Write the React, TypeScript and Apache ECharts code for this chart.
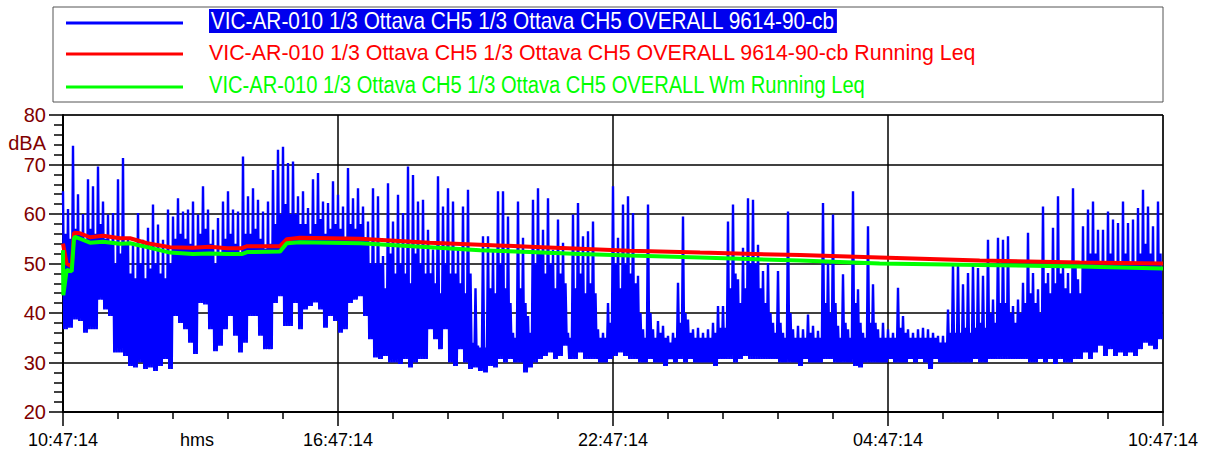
import React, { useEffect, useRef } from "react";
import * as echarts from "echarts";

// ---- data ----
const SPAN_MIN = 1440; // 24 h of record, x in minutes from start
const X_TICK_LABELS = ["10:47:14", "16:47:14", "22:47:14", "04:47:14", "10:47:14"];
const Y_MIN = 20;
const Y_MAX = 80;

const LEGEND_NAMES = [
  "VIC-AR-010 1/3 Ottava CH5 1/3 Ottava CH5 OVERALL 9614-90-cb",
  "VIC-AR-010 1/3 Ottava CH5 1/3 Ottava CH5 OVERALL 9614-90-cb Running Leq",
  "VIC-AR-010 1/3 Ottava CH5 1/3 Ottava CH5 OVERALL Wm Running Leq",
];

// Blue raw level, per time slice: highest peak, lowest trough, and top of the dense band
const BLUE_HI = [
  64.6, 61, 73.8, 64, 60, 67, 65.6, 69.6, 62.5, 59.9, 60.2, 67, 71.3, 54.8, 54.2, 60.2, 54.8, 57.2, 61.9, 57.9, 54.8, 60.9,
  59.5, 63.2, 60.5, 60.9, 62.5, 59.9, 65.6, 60.9, 56.8, 59.2, 62.5, 64.6, 60.9, 60.5, 71.6, 63.6, 65.2, 62.9, 60.5, 62.5, 68.9, 73,
  73.6, 70.3, 70.6, 63.6, 64.6, 61.2, 67, 68.3, 62.5, 62.2, 66.6, 63.9, 61.5, 69.3, 63.2, 65.2, 61.5, 58.5, 65.2, 63.6, 51.5, 66.2,
  58.5, 63.9, 60.2, 69.6, 67.9, 62.5, 62.9, 56.8, 52.8, 67.6, 61.5, 65.2, 62.5, 52.8, 61.5, 64.9, 34, 33.4, 55.5, 55.5, 52.8, 64.6,
  64.6, 59.5, 36, 62.5, 55.2, 39.4, 62.9, 65.2, 56.8, 63.2, 52.8, 58.9, 54.2, 36, 59.9, 62.2, 55.5, 56.5, 58.5, 36.7, 36, 42,
  65.6, 55.2, 61.9, 63.6, 60.2, 47.5, 36.7, 61.9, 36.7, 38.4, 37.4, 35.4, 36, 46.1, 59.5, 38.7, 36.7, 37, 36, 36.7, 38, 41.4,
  41.4, 58.5, 61.9, 46.8, 53.2, 63.2, 62.9, 53.8, 48.5, 50.1, 38, 48.5, 36, 60.5, 36.7, 37.4, 36.7, 39.7, 37.4, 36.4, 62.2, 50.1,
  59.9, 37.4, 47.8, 36.7, 64.6, 44.8, 36, 57.5, 45.8, 36.7, 38, 36.7, 36, 45.1, 39.4, 36.7, 36, 36.7, 37, 36.7, 36, 35.4,
  35.4, 40.7, 50.1, 50.1, 45.8, 48.1, 50.1, 49.1, 47.5, 54.8, 42.7, 55.2, 54.8, 55.5, 41.4, 42.7, 46.1, 56.2, 48.1, 44.8, 61.5, 48.1,
  57.2, 63.6, 49.5, 48.1, 65.2, 46.8, 57.5, 60.9, 62.5, 56.8, 56.8, 60.5, 58.9, 58.2, 62.5, 58.2, 58.9, 61.2, 64.9, 61.5, 57.5, 62.5,
];
const BLUE_LO = [
  36.7, 37, 38.7, 38.4, 36, 36.7, 36.7, 42.7, 40.7, 39.4, 32, 32, 31.3, 29.3, 29, 30, 28.7, 29, 28.3, 29.3, 30.7, 28.7,
  39.4, 38, 36.7, 34, 31.7, 42, 41.7, 36.7, 32.3, 33.4, 36.7, 39.4, 35.4, 32, 34, 39.4, 39.4, 35.4, 32.7, 32.7, 42, 43.4,
  37.4, 37.4, 42, 36.7, 40.7, 41.4, 42.1, 40.7, 37, 39.4, 38.4, 36, 36.7, 42, 42.7, 43.4, 39.4, 34.7, 31, 30.7, 31.3, 30,
  30, 29.7, 30.7, 29, 30, 30.7, 30.7, 36.7, 34.7, 32.7, 36.7, 30, 29.3, 32.7, 30, 28.7, 29, 28.3, 28, 29.3, 29, 30.7,
  30, 30.7, 30, 30, 28, 29, 30, 30.7, 31.3, 32, 30.7, 31.3, 33.4, 30.7, 30.7, 32, 30.7, 30.7, 30.7, 30, 30, 30.7,
  31.3, 32, 31.3, 30.7, 30.7, 30, 30, 30.7, 30, 30, 29.3, 30.7, 30, 30.7, 30, 30.7, 30, 30, 30, 30, 29.3, 30.7,
  30.7, 30.7, 30, 30.7, 31.3, 30.7, 30.7, 30.7, 30.7, 30.7, 30.7, 30, 30, 30, 30, 29.3, 30.7, 30, 30, 30, 30.7, 30.7,
  30, 30, 30, 30, 29.3, 29, 30, 30, 30, 30, 30, 30.7, 30, 30, 30, 30.7, 30, 30.7, 30, 28.7, 30.7, 30,
  30, 30, 30, 30, 30, 30, 30.7, 30, 30, 30.7, 30.7, 30.7, 30.7, 30.7, 30.7, 30.7, 30.7, 30, 30, 30.7, 30, 30.7,
  29.7, 30.7, 30, 30, 30.7, 30.7, 32, 30.7, 32, 33.4, 31.3, 32.7, 31.3, 32, 31.3, 32, 31.3, 32.7, 34, 33.4, 32.7, 34.7,
];
const BLUE_CORE = [
  56, 55, 57, 56, 55, 57, 56, 58, 55, 54, 50, 52, 54, 48, 47, 50, 47, 49, 50, 48, 47, 50,
  55, 56, 55, 54, 53, 56, 57, 54, 50, 52, 55, 56, 54, 52, 56, 56, 57, 55, 53, 54, 58, 60,
  62, 60, 60, 58, 58, 56, 58, 59, 56, 57, 58, 57, 55, 58, 57, 58, 55, 50, 50, 50, 45, 52,
  48, 50, 48, 46, 52, 50, 48, 48, 46, 44, 50, 48, 48, 46, 44, 48, 45, 33, 33, 45, 44, 50,
  45, 42, 35, 45, 42, 36, 50, 52, 48, 50, 45, 48, 46, 35, 45, 48, 44, 46, 44, 35, 35, 38,
  50, 45, 50, 48, 46, 40, 35, 40, 35, 36, 35, 34, 35, 38, 40, 36, 35, 35, 35, 35, 36, 37,
  37, 45, 48, 42, 45, 50, 50, 45, 42, 40, 36, 38, 35, 40, 35, 35, 35, 36, 35, 35, 42, 40,
  42, 35, 38, 35, 42, 38, 35, 38, 38, 35, 35, 35, 35, 37, 36, 35, 35, 35, 35, 35, 35, 34,
  34, 36, 36, 36, 37, 36, 37, 38, 37, 40, 38, 42, 42, 40, 38, 40, 42, 44, 42, 40, 46, 44,
  46, 48, 45, 44, 50, 44, 50, 52, 52, 50, 50, 52, 50, 50, 52, 50, 50, 52, 54, 52, 50, 52,
];

// Red running Leq
const RED_T = [0, 4.8, 11.4, 14.4, 22.3, 35.3, 52.4, 74.6, 87.7, 110, 140, 170, 192, 215, 234, 241, 284, 293, 310, 389, 480, 546, 611, 677, 742, 834, 965, 1069, 1200, 1331, 1440];
const RED_V = [54.0, 50.0, 49.4, 56.2, 56.1, 55.3, 55.6, 55.1, 55.1, 54.1, 53.3, 53.2, 53.4, 53.1, 53.1, 53.5, 53.5, 54.9, 55.2, 55.0, 54.2, 53.8, 53.4, 53.0, 52.6, 52.2, 51.7, 51.2, 50.6, 50.2, 50.0];

// Green Wm running Leq
const GREEN_T = [0, 0.4, 4.8, 11.4, 14.4, 15.7, 22.3, 35.3, 52.4, 74.6, 87.7, 110, 140, 170, 192, 215, 234, 241, 284, 293, 310, 389, 480, 546, 611, 677, 742, 834, 965, 1069, 1200, 1331, 1440];
const GREEN_V = [52.7, 43.6, 48.7, 48.4, 55.0, 55.4, 55.0, 54.2, 54.4, 54.0, 54.1, 53.3, 52.2, 51.9, 52.0, 51.9, 51.9, 52.3, 52.4, 54.1, 54.3, 54.1, 53.3, 52.7, 52.3, 51.9, 51.6, 51.2, 50.6, 50.0, 49.7, 49.4, 49.0];

const FONT = "'Liberation Sans Narrow', 'Arial Narrow', 'Liberation Sans', Arial, sans-serif";
const DARK_RED = "#800000";

export default function App() {
  const ref = useRef<HTMLDivElement>(null);

  useEffect(() => {
    if (!ref.current) return;
    const chart = echarts.init(ref.current, undefined, { renderer: "svg" });

    const step = SPAN_MIN / BLUE_HI.length;
    const blue: number[][] = [];
    for (let i = 0; i < BLUE_HI.length; i++) {
      blue.push([i * step, BLUE_HI[i]]);
      blue.push([(i + 0.25) * step, BLUE_LO[i]]);
      blue.push([(i + 0.5) * step, BLUE_CORE[i]]);
      blue.push([(i + 0.75) * step, BLUE_LO[i]]);
    }
    const red = RED_T.map((t, i) => [t, RED_V[i]]);
    const green = GREEN_T.map((t, i) => [t, GREEN_V[i]]);

    const legendRows = [
      { y: 23, color: "#0000ff", sx: 0.906 },
      { y: 54, color: "#ff0000", sx: 0.93 },
      { y: 87, color: "#00ff00", sx: 0.875 },
    ];

    const graphics: any[] = [
      {
        type: "rect",
        shape: { x: 53, y: 7, width: 1110, height: 95 },
        style: { fill: "#fff", stroke: "#555", lineWidth: 1 },
        z: 0,
      },
    ];
    legendRows.forEach((r, i) => {
      graphics.push({
        type: "line",
        shape: { x1: 66, y1: r.y, x2: 183, y2: r.y },
        style: { stroke: r.color, lineWidth: 3 },
      });
      graphics.push({
        type: "text",
        x: 209,
        y: r.y - 2,
        scaleX: r.sx,
        style: {
          text: LEGEND_NAMES[i],
          fill: i === 0 ? "#ffffff" : r.color,
          fontSize: 23,
          fontFamily: FONT,
          verticalAlign: "middle",
          backgroundColor: i === 0 ? "#0000ee" : undefined,
          padding: i === 0 ? [1, 2, 0, 2] : 0,
        },
      });
    });
    graphics.push({
      type: "text",
      x: 46,
      y: 143,
      style: { text: "dBA", fill: DARK_RED, fontSize: 20, fontFamily: FONT, align: "right", verticalAlign: "middle" },
    });
    graphics.push({
      type: "text",
      x: 197,
      y: 440,
      style: { text: "hms", fill: "#000", fontSize: 18, fontFamily: FONT, align: "center", verticalAlign: "middle" },
    });

    chart.setOption({
      animation: false,
      backgroundColor: "#fff",
      grid: { left: 63, top: 115, width: 1100, height: 297, show: true, borderColor: "#333", borderWidth: 1 },
      xAxis: {
        type: "value",
        min: 0,
        max: SPAN_MIN,
        interval: 360,
        axisLine: { show: true, lineStyle: { color: "#000", width: 2 } },
        axisTick: { show: true, length: 14, lineStyle: { color: "#000", width: 1.5 } },
        minorTick: { show: true, splitNumber: 5, length: 7, lineStyle: { color: "#000", width: 1.5 } },
        splitLine: { show: true, lineStyle: { color: "#000", width: 1.5 } },
        axisLabel: {
          color: "#000",
          fontSize: 18,
          fontFamily: FONT,
          margin: 19,
          showMinLabel: true,
          showMaxLabel: true,
          formatter: (v: number) => X_TICK_LABELS[Math.round(v / 360)] ?? "",
        },
      },
      yAxis: {
        type: "value",
        min: Y_MIN,
        max: Y_MAX,
        interval: 10,
        axisLine: { show: true, lineStyle: { color: "#000", width: 2 } },
        axisTick: { show: true, length: 14, lineStyle: { color: "#000", width: 1.5 } },
        minorTick: { show: true, splitNumber: 5, length: 9, lineStyle: { color: "#000", width: 1.5 } },
        splitLine: { show: true, lineStyle: { color: "#000", width: 1.5 } },
        axisLabel: { color: DARK_RED, fontSize: 20, fontFamily: FONT, margin: 17 },
      },
      graphic: graphics,
      series: [
        {
          name: LEGEND_NAMES[0],
          type: "line",
          data: blue,
          showSymbol: false,
          symbol: "none",
          lineStyle: { color: "#0000ff", width: 2.4 },
          z: 2,
        },
        {
          name: LEGEND_NAMES[1],
          type: "line",
          data: red,
          showSymbol: false,
          symbol: "none",
          lineStyle: { color: "#ff0000", width: 4 },
          z: 3,
        },
        {
          name: LEGEND_NAMES[2],
          type: "line",
          data: green,
          showSymbol: false,
          symbol: "none",
          lineStyle: { color: "#00ff00", width: 4 },
          z: 4,
        },
      ],
    });

    return () => chart.dispose();
  }, []);

  return (
    <div
      ref={ref}
      style={{ position: "fixed", left: 0, top: 0, width: 1205, height: 454, background: "#fff" }}
    />
  );
}
